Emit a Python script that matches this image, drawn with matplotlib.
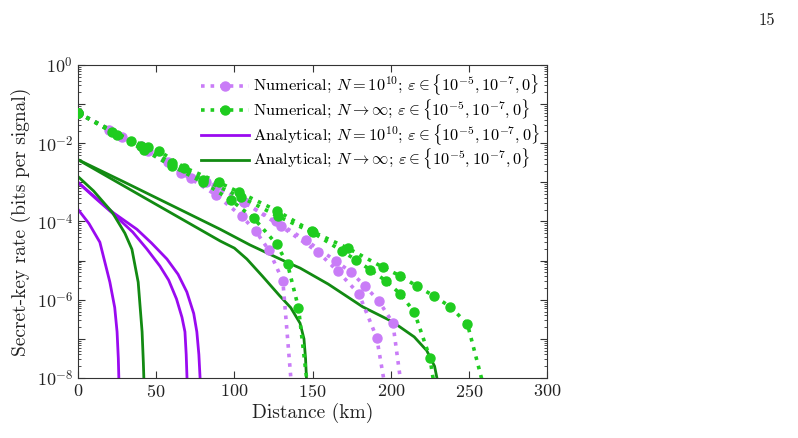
import numpy as np
import matplotlib
matplotlib.use('Agg')
import matplotlib.pyplot as plt
from matplotlib.ticker import LogLocator, FuncFormatter, NullFormatter

plt.rcParams['font.family'] = 'serif'
plt.rcParams['font.serif'] = ['cmr10']
plt.rcParams['mathtext.fontset'] = 'cm'
plt.rcParams['axes.unicode_minus'] = False
plt.rcParams['axes.formatter.use_mathtext'] = True

# numerical, N = 1e10 (log10 of rate), eps = 0, 1e-7, 1e-5
num_fin_d0 = [0, 28, 57.5, 82, 106, 126.5, 145.7, 164.9, 174.4, 183.4, 192.3, 201.3, 206.2]
num_fin_L0 = [-1.22, -1.83, -2.47, -3.0, -3.51, -4.0, -4.48, -5.01, -5.29, -5.65, -6.03, -6.59, -8.05]
num_fin_d1 = [0, 40, 72, 88, 106, 129.7, 153.4, 166.1, 179.6, 191, 195.6]
num_fin_L1 = [-1.22, -2.06, -2.88, -3.08, -3.5, -4.12, -4.78, -5.27, -5.85, -6.97, -8.05]
num_fin_d2 = [0, 20, 45, 66, 88.5, 104.8, 113.7, 122, 131, 136.2]
num_fin_L2 = [-1.22, -1.66, -2.2, -2.75, -3.33, -3.87, -4.25, -4.73, -5.52, -8.05]

# numerical, N -> inf
num_inf_d0 = [0, 34, 45, 52, 68, 90, 103, 127, 149.5, 172.5, 195, 206, 216.6, 227.5, 238, 249, 258.3]
num_inf_L0 = [-1.22, -1.93, -2.09, -2.2, -2.62, -3.0, -3.25, -3.72, -4.25, -4.68, -5.17, -5.39, -5.65, -5.9, -6.18, -6.62, -8.05]
num_inf_d1 = [0, 25, 40, 60, 80, 104, 128, 150, 169, 178, 187, 197, 206, 215, 225, 227.2]
num_inf_L1 = [-1.22, -1.78, -2.06, -2.5, -2.93, -3.37, -3.87, -4.28, -4.76, -4.99, -5.24, -5.52, -5.85, -6.31, -7.48, -8.05]
num_inf_d2 = [0, 22, 42, 60, 80, 98, 112.5, 127, 134, 141, 146.3]
num_inf_L2 = [-1.22, -1.72, -2.17, -2.58, -3.0, -3.46, -3.92, -4.58, -5.09, -6.21, -8.05]

# analytical, N = 1e10
ana_fin_d0 = [0, 11, 22.4, 37.7, 47, 56.9, 64, 69.6, 74, 76, 77.3, 78.2]
ana_fin_L0 = [-3.0, -3.38, -3.77, -4.2, -4.55, -4.96, -5.35, -5.8, -6.35, -6.82, -7.4, -8.1]
ana_fin_d1 = [0, 11, 22.4, 35, 44, 52.4, 58, 63, 66.5, 68.4, 69.2, 69.8]
ana_fin_L1 = [-3.0, -3.4, -3.8, -4.27, -4.7, -5.14, -5.5, -5.98, -6.45, -6.82, -7.4, -8.1]
ana_fin_d2 = [0, 7, 14, 20.4, 23.5, 25, 25.8, 26.2]
ana_fin_L2 = [-3.69, -4.05, -4.53, -5.55, -6.2, -6.82, -7.5, -8.1]

# analytical, N -> inf
ana_inf_d0 = [0, 30, 60, 91, 110, 133.5, 142, 160, 182, 201, 215, 223, 228, 230]
ana_inf_L0 = [-2.42, -3.0, -3.59, -4.2, -4.6, -5.04, -5.19, -5.6, -6.18, -6.56, -6.95, -7.3, -7.7, -8.1]
ana_inf_d1 = [0, 45, 91, 100, 108, 118, 129, 136, 142, 144.5, 145.5, 146.2]
ana_inf_L1 = [-2.42, -3.45, -4.5, -4.68, -4.96, -5.4, -5.9, -6.2, -6.6, -7.0, -7.5, -8.1]
ana_inf_d2 = [0, 10, 22, 30, 34.5, 38.5, 41, 41.8, 42.2]
ana_inf_L2 = [-2.85, -3.22, -3.77, -4.3, -4.71, -5.55, -6.82, -7.6, -8.1]

c_num_fin = '#c97cf7'
c_num_inf = '#1fcc1f'
c_ana_fin = '#9a0af0'
c_ana_inf = '#128a12'

fig = plt.figure(figsize=(7.98, 4.38), dpi=100)
ax = fig.add_axes([0.0977, 0.137, 0.588, 0.7146])

def ana(d, L, c, lab):
    ax.plot(d, 10.0 ** np.array(L), color=c, lw=2.0, label=lab, zorder=2)

def num(d, L, c, lab):
    ax.plot(d, 10.0 ** np.array(L), color=c, lw=2.6, ls=':', marker='o', ms=6.5,
            mec=c, markevery=list(range(len(d) - 1)), label=lab, zorder=3)

eps_txt = r'$\varepsilon \in \{10^{-5}, 10^{-7}, 0\}$'
num(num_fin_d0, num_fin_L0, c_num_fin, 'Numerical; $N = 10^{10}$; ' + eps_txt)
num(num_fin_d1, num_fin_L1, c_num_fin, None)
num(num_fin_d2, num_fin_L2, c_num_fin, None)
num(num_inf_d0, num_inf_L0, c_num_inf, r'Numerical; $N \to \infty$; ' + eps_txt)
num(num_inf_d1, num_inf_L1, c_num_inf, None)
num(num_inf_d2, num_inf_L2, c_num_inf, None)
ana(ana_fin_d0, ana_fin_L0, c_ana_fin, 'Analytical; $N = 10^{10}$; ' + eps_txt)
ana(ana_fin_d1, ana_fin_L1, c_ana_fin, None)
ana(ana_fin_d2, ana_fin_L2, c_ana_fin, None)
ana(ana_inf_d0, ana_inf_L0, c_ana_inf, r'Analytical; $N \to \infty$; ' + eps_txt)
ana(ana_inf_d1, ana_inf_L1, c_ana_inf, None)
ana(ana_inf_d2, ana_inf_L2, c_ana_inf, None)

ax.set_yscale('log')
ax.set_xlim(0, 300)
ax.set_ylim(1e-8, 1)
ax.set_xticks([0, 50, 100, 150, 200, 250, 300])
ax.yaxis.set_major_locator(LogLocator(base=10, numticks=20))
ax.yaxis.set_minor_locator(LogLocator(base=10, subs=np.arange(2, 10), numticks=20))
ax.yaxis.set_minor_formatter(NullFormatter())

def yfmt(v, pos):
    e = int(round(np.log10(v)))
    if e % 2:
        return ''
    return r'$10^{%d}$' % e

ax.yaxis.set_major_formatter(FuncFormatter(yfmt))
ax.tick_params(which='both', direction='in', top=True, right=True, colors='#333333', labelcolor='#222222')
ax.tick_params(which='major', length=5, labelsize=13)
ax.tick_params(which='minor', length=2.5)
for s in ax.spines.values():
    s.set_color('#333333')

ax.set_xlabel('Distance (km)', fontsize=14, color='#222222', labelpad=2)
ax.set_ylabel('Secret-key rate (bits per signal)', fontsize=14, color='#222222', labelpad=4)

ax.legend(loc='upper right', frameon=False, fontsize=11.8, numpoints=1, handlelength=2.9,
          handletextpad=0.25, labelspacing=-0.02, borderaxespad=0.15, borderpad=0.3)

fig.text(0.971, 0.97, '15', fontsize=12, ha='right', va='top', color='#222222')

fig.savefig('out.png', dpi=100)
